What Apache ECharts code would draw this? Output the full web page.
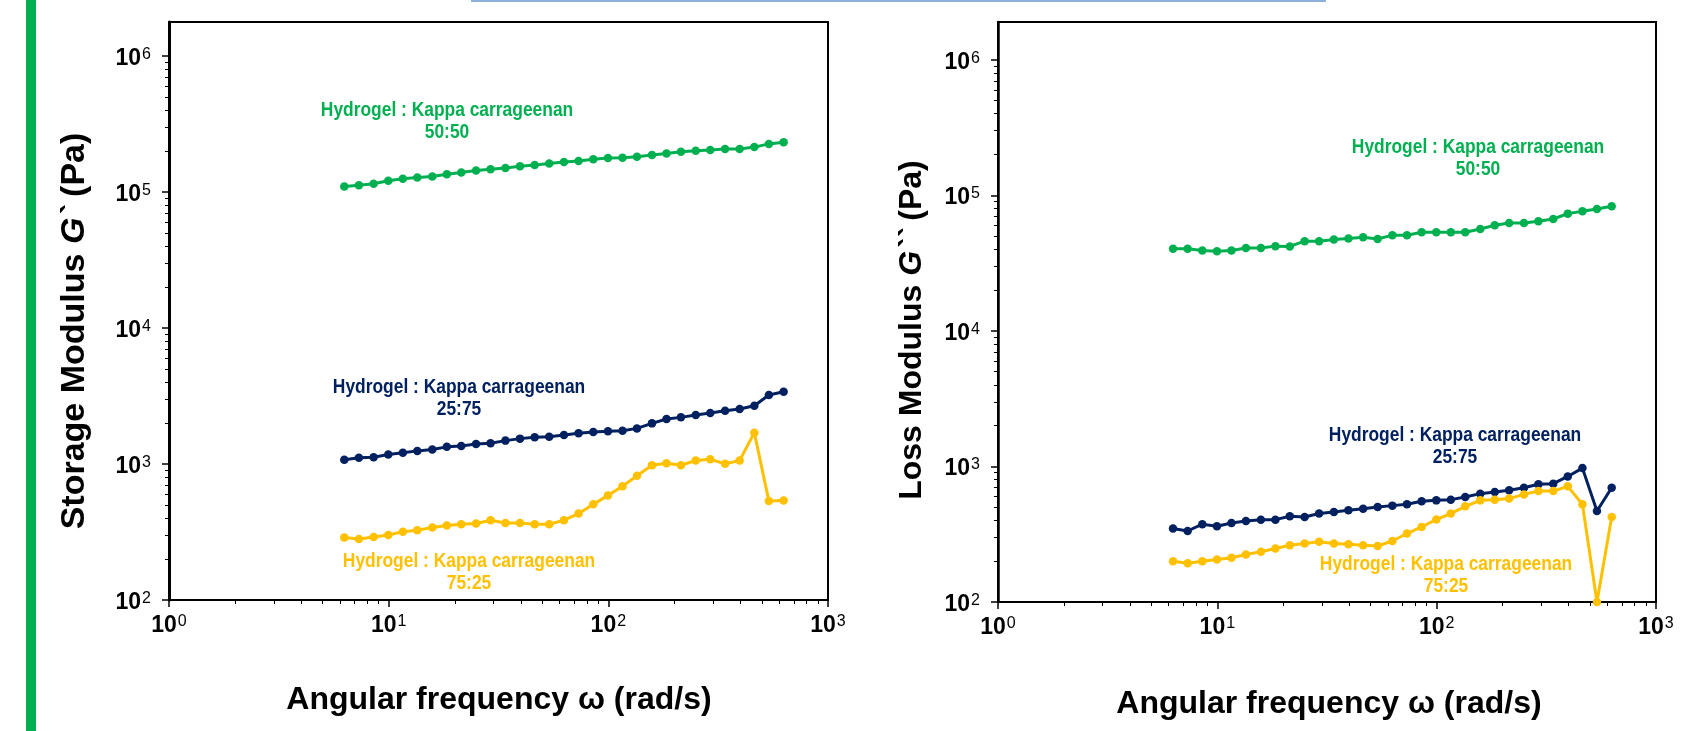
<!DOCTYPE html>
<html>
<head>
<meta charset="utf-8">
<script src="https://cdn.jsdelivr.net/npm/echarts@6/dist/echarts.min.js"></script>
<style>
html,body{margin:0;padding:0;background:#fff;}
#c{width:1686px;height:731px;}
</style>
</head>
<body>
<div id="c"></div>
<script>
// Angular frequency (rad/s)
const omega = [6.28, 7.32, 8.54, 9.96, 11.6, 13.5, 15.8, 18.4, 21.4, 25.0, 29.1, 34.0, 39.6, 46.2, 53.8, 62.8, 73.2, 85.4, 99.6, 116, 135, 158, 184, 214, 250, 291, 340, 396, 462, 538, 628];

// Storage modulus G' (Pa)
const storage5050 = [110000, 112000, 115000, 121000, 125000, 128000, 130000, 135000, 139000, 144000, 147000, 150000, 155000, 158000, 162000, 166000, 169000, 174000, 178000, 179000, 182000, 187000, 192000, 198000, 201000, 204000, 207000, 207000, 214000, 226000, 232000];
const storage2575 = [1074, 1110, 1122, 1174, 1208, 1249, 1277, 1337, 1359, 1405, 1419, 1486, 1537, 1571, 1589, 1636, 1682, 1721, 1739, 1759, 1828, 1990, 2143, 2203, 2293, 2371, 2466, 2537, 2683, 3215, 3397];
const storage7525 = [288, 281, 291, 301, 318, 326, 341, 353, 361, 365, 386, 368, 368, 361, 361, 386, 432, 505, 588, 687, 820, 980, 1013, 980, 1062, 1085, 1003, 1062, 1701, 534, 540];

// Loss modulus G'' (Pa)
const loss5050 = [40300, 40300, 39200, 38700, 39200, 40900, 40900, 42200, 42000, 45900, 45900, 47200, 48100, 49100, 47700, 50800, 50800, 53500, 53500, 53500, 53500, 56500, 60100, 62500, 62500, 64400, 66900, 73300, 76300, 79300, 83000];
const loss2575 = [348, 334, 375, 362, 383, 396, 405, 405, 429, 424, 449, 462, 475, 488, 502, 514, 526, 553, 562, 569, 595, 630, 647, 667, 697, 738, 746, 844, 972, 469, 697];
const loss7525 = [200, 193, 200, 206, 212, 224, 235, 248, 262, 270, 278, 270, 267, 262, 259, 282, 320, 358, 406, 449, 508, 562, 569, 579, 622, 658, 658, 713, 526, 100, 424];

// Tick values
const xMajor = [1, 10, 100, 1000];
const xMinor = [2, 3, 4, 5, 6, 7, 8, 9, 20, 30, 40, 50, 60, 70, 80, 90, 200, 300, 400, 500, 600, 700, 800, 900];
const yMajor = [100, 1000, 10000, 100000, 1000000];
const yMinor = [200, 300, 400, 500, 600, 700, 800, 900, 2000, 3000, 4000, 5000, 6000, 7000, 8000, 9000,
  20000, 30000, 40000, 50000, 60000, 70000, 80000, 90000, 200000, 300000, 400000, 500000, 600000, 700000, 800000, 900000];

const seriesNames = ['Hydrogel : Kappa carrageenan 50:50', 'Hydrogel : Kappa carrageenan 25:75', 'Hydrogel : Kappa carrageenan 75:25'];
const colors = ['#00b050', '#002060', '#ffc000'];

const FONT = "'Liberation Sans', Arial, sans-serif";

function pairs(xs, ys) { return xs.map((x, i) => [x, ys[i]]); }

function powLabel(v) {
  const e = Math.round(Math.log10(v));
  return '{b|10}{s|' + e + '}';
}
const tickRich = {
  b: { fontSize: 23, fontWeight: 'bold', fontFamily: FONT, color: '#000', lineHeight: 24 },
  s: { fontSize: 16, fontFamily: FONT, color: '#000', verticalAlign: 'top', lineHeight: 24, padding: [0, 0, 0, 1] }
};

const grids = [
  { left: 169, top: 22, width: 659, height: 578 },
  { left: 998, top: 22, width: 658, height: 580 }
];
const yMax = [1780000, 1900000];

const xAxes = [], yAxes = [];
grids.forEach((g, gi) => {
  xAxes.push({
    type: 'log', logBase: 10, gridIndex: gi, min: 1, max: 1000, position: 'bottom',
    axisLine: { show: true, onZero: false, lineStyle: { color: '#000', width: 2 } },
    axisTick: { show: true, inside: false, length: 7, customValues: xMajor, lineStyle: { color: '#000', width: 1.5 } },
    axisLabel: { show: true, customValues: xMajor, formatter: powLabel, rich: tickRich, margin: 14 },
    splitLine: { show: false }, minorTick: { show: false }
  });
  xAxes.push({
    type: 'log', logBase: 10, gridIndex: gi, min: 1, max: 1000, position: 'bottom', offset: 0,
    axisLine: { show: false, onZero: false },
    axisTick: { show: true, inside: false, length: 4, customValues: xMinor, lineStyle: { color: '#000', width: 1 } },
    axisLabel: { show: false }, splitLine: { show: false }
  });
  yAxes.push({
    type: 'log', logBase: 10, gridIndex: gi, min: 100, max: yMax[gi], position: 'left',
    axisLine: { show: true, onZero: false, lineStyle: { color: '#000', width: gi === 0 ? 3 : 2.5 } },
    axisTick: { show: true, inside: false, length: 7, customValues: yMajor, lineStyle: { color: '#000', width: 1.5 } },
    axisLabel: { show: true, customValues: yMajor, formatter: powLabel, rich: tickRich, margin: 18, padding: [5, 0, 0, 0] },
    splitLine: { show: false }, minorTick: { show: false }
  });
  yAxes.push({
    type: 'log', logBase: 10, gridIndex: gi, min: 100, max: yMax[gi], position: 'left', offset: 0,
    axisLine: { show: false, onZero: false },
    axisTick: { show: true, inside: false, length: 4, customValues: yMinor, lineStyle: { color: '#000', width: 1 } },
    axisLabel: { show: false }, splitLine: { show: false }
  });
});

const panels = [[storage5050, storage2575, storage7525], [loss5050, loss2575, loss7525]];
const series = [];
panels.forEach((sets, gi) => {
  sets.forEach((vals, si) => {
    series.push({
      name: seriesNames[si], type: 'line', xAxisIndex: gi * 2, yAxisIndex: gi * 2,
      data: pairs(omega, vals), symbol: 'circle', symbolSize: 8.5, showSymbol: true,
      itemStyle: { color: colors[si] }, lineStyle: { color: colors[si], width: 3 },
      clip: true, animation: false, z: 3
    });
  });
});

function note(x, y, text, color) {
  return {
    type: 'text', x: x, y: y, z: 10, scaleX: 0.87,
    style: {
      text: text, fill: color, fontWeight: 'bold', fontSize: 20, fontFamily: FONT,
      align: 'center', verticalAlign: 'middle', textAlign: 'center', textVerticalAlign: 'middle', lineHeight: 22
    }
  };
}
function title(x, y, rot, text, size) {
  return {
    type: 'text', x: x, y: y, rotation: rot, z: 10,
    style: {
      text: text, fill: '#000', fontSize: size, fontWeight: 'bold', fontFamily: FONT,
      rich: {
        a: { fontSize: size, fontWeight: 'bold', fontFamily: FONT, fill: '#000', color: '#000' },
        i: { fontSize: size, fontWeight: 'bold', fontStyle: 'italic', fontFamily: FONT, fill: '#000', color: '#000' }
      },
      align: 'center', verticalAlign: 'middle', textAlign: 'center', textVerticalAlign: 'middle'
    }
  };
}

const graphics = [
  { type: 'rect', shape: { x: 26, y: 0, width: 10, height: 731 }, style: { fill: '#00b050' }, z: 1 },
  { type: 'rect', shape: { x: 471, y: 0, width: 855, height: 2 }, style: { fill: '#8eb0dc' }, z: 1 },
  title(499, 700, 0, '{a|Angular frequency ω (rad/s)}', 32),
  title(1329, 704, 0, '{a|Angular frequency ω (rad/s)}', 32),
  title(75, 331, Math.PI / 2, '{a|Storage Modulus }{i|G`}{a| (Pa)}', 34),
  title(912, 330, Math.PI / 2, '{a|Loss Modulus }{i|G``}{a| (Pa)}', 32),
  note(447, 121, 'Hydrogel : Kappa carrageenan\n50:50', colors[0]),
  note(459, 398, 'Hydrogel : Kappa carrageenan\n25:75', colors[1]),
  note(469, 572, 'Hydrogel : Kappa carrageenan\n75:25', colors[2]),
  note(1478, 158, 'Hydrogel : Kappa carrageenan\n50:50', colors[0]),
  note(1455, 446, 'Hydrogel : Kappa carrageenan\n25:75', colors[1]),
  note(1446, 575, 'Hydrogel : Kappa carrageenan\n75:25', colors[2])
];

const chart = echarts.init(document.getElementById('c'), null, { renderer: 'canvas' });
chart.setOption({
  animation: false,
  backgroundColor: '#fff',
  grid: grids.map(g => Object.assign({ show: true, borderColor: '#000', borderWidth: 2, backgroundColor: 'transparent' }, g)),
  xAxis: xAxes,
  yAxis: yAxes,
  series: series,
  graphic: graphics
});
</script>
</body>
</html>
